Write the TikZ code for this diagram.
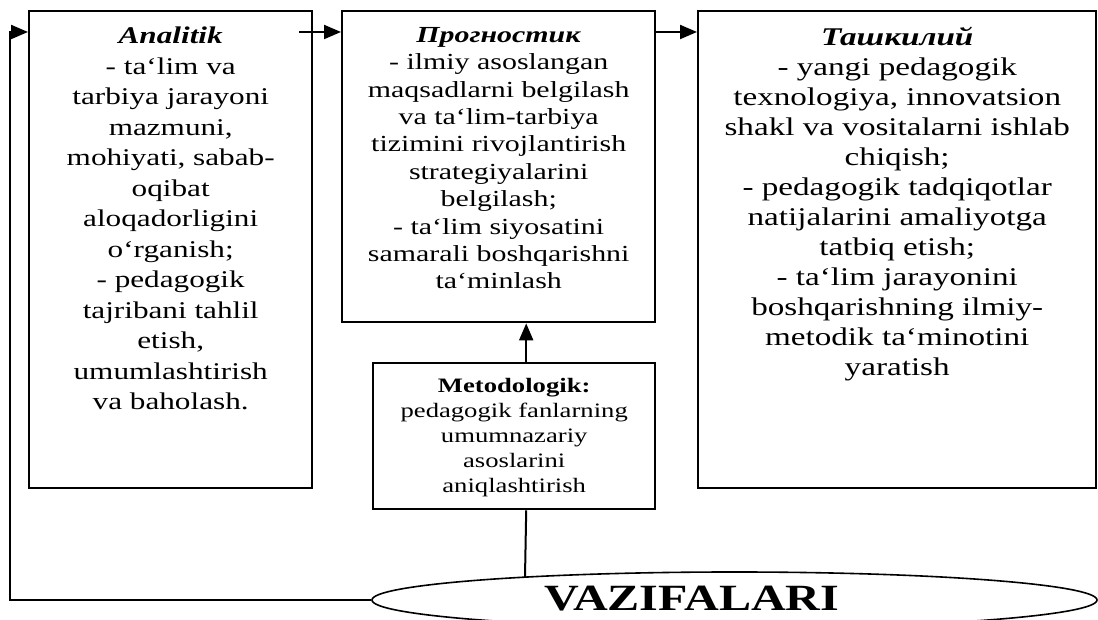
\documentclass[tikz,border=0pt]{standalone}
\usepackage{fontspec}
\setmainfont{Liberation Serif}[FakeStretch=1.3]
\usetikzlibrary{arrows.meta,shapes.geometric}
\tikzset{
  blok/.style = {rectangle, draw=black, line width=2.4pt, inner sep=0pt,
    anchor=north west},% vazifa bloki
  blok_txt/.style = {align=center, inner sep=0pt, anchor=north},% blok matni
  vaz_ell/.style = {ellipse, draw=black, line width=1.6pt, inner sep=0pt,
    minimum width=725pt, minimum height=56pt},% markaziy ellips
  strelka/.style = {line width=2pt, -{Triangle[length=17pt,width=14pt]}}
}

\begin{document}
\begin{tikzpicture}[x=1pt,y=1pt]
\useasboundingbox (0,0) rectangle (1098,620);
% bloklar
\node [blok, minimum width=283pt, minimum height=477pt] (ana) at (28,610) {};
\node [blok, minimum width=313pt, minimum height=311pt] (prog) at (341,610) {};
\node [blok, minimum width=398pt, minimum height=477pt] (tash) at (697,610) {};
\node [blok, minimum width=282pt, minimum height=146pt] (met) at (372,258) {};
\node [vaz_ell] (vaz) at (734.5,20) {};
% matnlar
\node [blok_txt, font=\fontsize{24}{30.5}\selectfont] (anaT)
  at ([yshift=-17pt]ana.north) {\textbf{\textit{Analitik}}\\
  - ta`lim va\\ tarbiya jarayoni\\ mazmuni,\\ mohiyati, sabab-\\ oqibat\\
  aloqadorligini\\ o`rganish;\\ - pedagogik\\ tajribani tahlil\\ etish,\\
  umumlashtirish\\ va baholash.};
\node [blok_txt, font=\fontsize{23}{27.4}\selectfont] (progT)
  at ([yshift=-17pt]prog.north) {\textbf{\textit{Прогностик}}\\
  - ilmiy asoslangan\\ maqsadlarni belgilash\\ va ta`lim-tarbiya\\
  tizimini rivojlantirish\\ strategiyalarini\\ belgilash;\\
  - ta`lim siyosatini\\ samarali boshqarishni\\ ta`minlash};
\node [blok_txt, font=\fontsize{25.5}{30}\selectfont] (tashT)
  at ([yshift=-17pt]tash.north) {\textbf{\textit{Ташкилий}}\\
  - yangi pedagogik\\ texnologiya, innovatsion\\ shakl va vositalarni ishlab\\
  chiqish;\\ - pedagogik tadqiqotlar\\ natijalarini amaliyotga\\ tatbiq etish;\\
  - ta`lim jarayonini\\ boshqarishning ilmiy-\\ metodik ta`minotini\\ yaratish};
\node [blok_txt, font=\fontsize{20.5}{25}\selectfont] (metT)
  at ([yshift=-16pt]met.north) {\textbf{Metodologik:}\\
  pedagogik fanlarning\\ umumnazariy\\ asoslarini\\ aniqlashtirish};
\node [inner sep=0pt, font=\fontsize{37}{40}\selectfont\bfseries] (vazT)
  at (692,21) {VAZIFALARI};
% bog'lanishlar
\coordinate (qaytish) at (10,0);
\coordinate (vazTepa) at (525,43);
\draw [strelka] (vaz.west) -- (vaz.west -| qaytish) |- ([yshift=-22pt]ana.north west);
\draw [strelka] ([xshift=-14pt,yshift=-22pt]ana.north east)
  -- ([yshift=-22pt]prog.north west);
\draw [strelka] ([yshift=-22pt]prog.north east) -- ([yshift=-22pt]tash.north west);
\draw [strelka] ([xshift=12pt]met.north) -- ([xshift=12pt]met.north |- prog.south);
\draw [line width=2pt] ([xshift=12pt]met.south) -- (vazTepa);
\end{tikzpicture}
\end{document}
